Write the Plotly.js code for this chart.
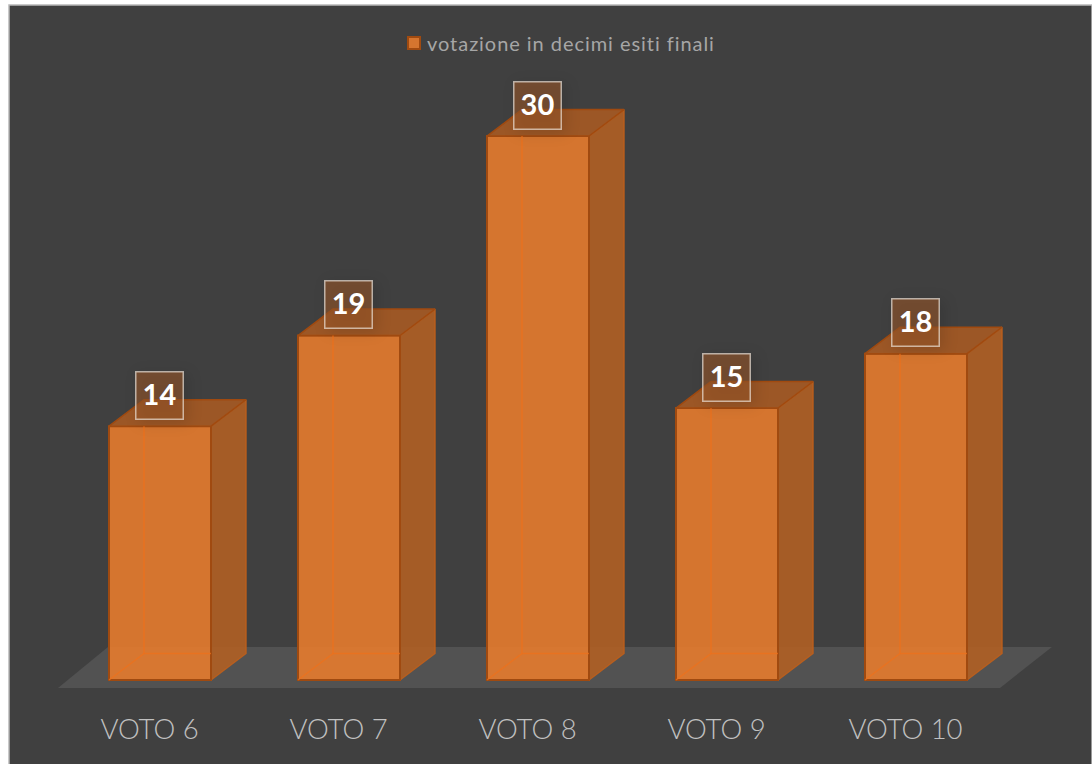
<!DOCTYPE html>
<html><head><meta charset="utf-8">
<script src="https://cdn.plot.ly/plotly-3.0.1.min.js"></script>
<style>html,body{margin:0;padding:0;background:#fff;overflow:hidden}
.legendtext{letter-spacing:0.95px;transform:translateX(-7px)}
.annotation rect.bg{filter:drop-shadow(4px 3px 7px rgba(0,0,0,.2))}</style></head>
<body><div id="chart" style="width:1092px;height:764px"></div>
<script>
const categories = ['VOTO 6','VOTO 7','VOTO 8','VOTO 9','VOTO 10'];
const values = [14,19,30,15,18];
const seriesName = 'votazione in decimi esiti finali';
const positions = categories.map((c,i)=>i);

// axis scale and oblique depth of the pseudo-3D columns
const pxPerX = 189, pxPerY = 18.13, x0px = 160, basePx = 680, plotBottomPx = 700;
const W = 1092, H = 764;
const barW = 102/pxPerX, dx = 35/pxPerX, dy = 26.5/pxPerY;
const hw = barW/2;
const tickOffset = -10.5/pxPerX;

const front='rgba(230,123,45,0.9)', side='rgba(176,95,35,0.9)', topc='rgba(166,90,35,0.9)', edge='#a04a10';
const hidden='rgba(240,112,25,0.7)';

const polys = [];
function poly(xs,ys,fill,line,w){
  polys.push({type:'scatter',mode:'lines',x:xs,y:ys,fill:fill?'toself':'none',fillcolor:fill||undefined,
    line:{color:line,width:w},showlegend:false,hoverinfo:'skip',cliponaxis:false});
}
positions.forEach((p,i)=>{
  const v=values[i], l=p-hw, r=p+hw;
  poly([r,r+dx,r+dx,r,r],[0,dy,v+dy,v,0],side,'rgba(190,95,28,0.9)',1.5);
  poly([l,r,r+dx,l+dx,l],[v,v,v+dy,v+dy,v],topc,edge,1.5);
  poly([r,r],[0,v],null,edge,2);
  // faint hidden back edges seen through the translucent column
  poly([l+dx,l+dx,r],[v,dy,dy],null,hidden,1.5);
  poly([l,l+dx],[0,dy],null,hidden,1.5);
});

const data=[{type:'bar',x:positions,y:values,width:barW,name:seriesName,
  marker:{color:front,line:{color:edge,width:2}},hoverinfo:'skip'}].concat(polys);

const annotations=positions.map((p,i)=>({
  xref:'x',yref:'y',x:p,y:values[i],yshift:31,xshift:-1,text:'<b>'+values[i]+'</b>',showarrow:false,
  width:39,height:39,align:'center',valign:'top',
  bgcolor:'rgba(150,85,40,0.6)',bordercolor:'rgba(235,225,215,0.7)',borderwidth:1.5,borderpad:3.5,
  font:{family:'Lato',size:29,color:'#ffffff'}
}));

const floorLeft=-(x0px-58)/pxPerX, floorRight=(1000-x0px)/pxPerX, floorFront=-8/pxPerY, floorBack=33/pxPerY, floorSkew=(50)/pxPerX;
const shapes=[
  {type:'rect',xref:'paper',yref:'paper',x0:9/W,x1:1,y0:(plotBottomPx-H-2)/plotBottomPx,y1:(plotBottomPx-5)/plotBottomPx,
   fillcolor:'#404040',line:{color:'#b8b8b8',width:1.5},layer:'below'},
  {type:'path',xref:'x',yref:'y',layer:'below',fillcolor:'#525252',line:{width:0},
   path:`M${floorLeft},${floorFront}L${floorRight},${floorFront}L${floorRight+floorSkew+0.01},${floorBack}L${floorLeft+floorSkew},${floorBack}Z`}
];

const layout={width:W,height:H,margin:{l:0,r:0,t:0,b:H-plotBottomPx,pad:0},
  paper_bgcolor:'#ffffff',plot_bgcolor:'rgba(0,0,0,0)',
  xaxis:{range:[-x0px/pxPerX,(W-x0px)/pxPerX],tickmode:'array',tickvals:positions.map(p=>p+tickOffset),ticktext:categories,
    showgrid:false,zeroline:false,showline:false,ticks:'outside',ticklen:5,tickcolor:'rgba(0,0,0,0)',
    tickfont:{family:'Lato',size:27.5,weight:300,color:'#c0c0c0'},fixedrange:true},
  yaxis:{range:[-(plotBottomPx-basePx)/pxPerY,basePx/pxPerY],visible:false,fixedrange:true},
  showlegend:true,
  legend:{orientation:'h',x:0.5133,xanchor:'center',y:(plotBottomPx-43)/plotBottomPx,yanchor:'middle',
    bgcolor:'rgba(0,0,0,0)',font:{family:'Lato',size:20,color:'#a6a6a6'}},
  annotations,shapes,bargap:0,font:{family:'Lato'}};
Plotly.newPlot('chart',data,layout,{displayModeBar:false,staticPlot:true});
</script></body></html>
